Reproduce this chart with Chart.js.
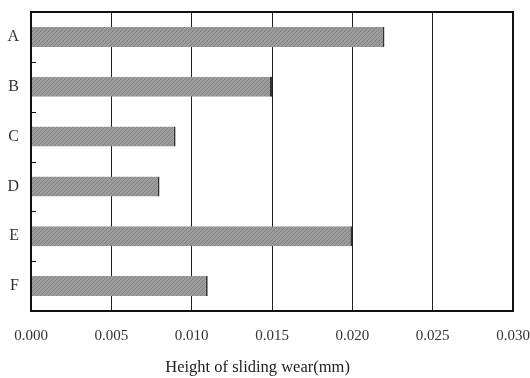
<!DOCTYPE html>
<html>
<head>
<meta charset="utf-8">
<script src="https://cdn.jsdelivr.net/npm/chart.js@4.4.1/dist/chart.umd.min.js"></script>
<style>
  html, body { margin: 0; padding: 0; background: #fff; }
  #wrap { width: 530px; height: 378px; position: relative; }
</style>
</head>
<body>
<div id="wrap"><canvas id="chart"></canvas></div>
<script>
const categories = ['A', 'B', 'C', 'D', 'E', 'F'];
const wearHeight = [0.022, 0.015, 0.009, 0.008, 0.020, 0.011];
const xTicks = [0, 0.005, 0.010, 0.015, 0.020, 0.025, 0.030];
const xTitle = 'Height of sliding wear(mm)';

const SERIF = '"Liberation Serif", "DejaVu Serif", serif';

function hatchPattern() {
  const c = document.createElement('canvas');
  c.width = 4;
  c.height = 4;
  const g = c.getContext('2d');
  g.fillStyle = '#9c9c9c';
  g.fillRect(0, 0, 4, 4);
  g.strokeStyle = '#828282';
  g.lineWidth = 1;
  g.beginPath();
  g.moveTo(0, 4); g.lineTo(4, 0);
  g.moveTo(-1, 1); g.lineTo(1, -1);
  g.moveTo(3, 5); g.lineTo(5, 3);
  g.stroke();
  return g.createPattern(c, 'repeat');
}

// frame round the plot and small inward ticks on the left axis between categories
const framePlugin = {
  id: 'frame',
  afterDraw(chart) {
    const { ctx, chartArea: a, scales } = chart;
    ctx.save();
    ctx.strokeStyle = '#111';
    ctx.lineWidth = 2;
    ctx.strokeRect(a.left, a.top, a.right - a.left, a.bottom - a.top);
    ctx.lineWidth = 1;
    const y = scales.y;
    for (let i = 1; i < categories.length; i++) {
      const py = Math.round((y.getPixelForValue(i - 1) + y.getPixelForValue(i)) / 2) + 0.5;
      ctx.beginPath();
      ctx.moveTo(a.left, py);
      ctx.lineTo(a.left + 5, py);
      ctx.stroke();
    }
    ctx.restore();
  }
};

// the title sits a little left of the plot centre in the original
function shiftedTitle(text) {
  return text + '\u00a0'.repeat(7);
}

new Chart(document.getElementById('chart'), {
  type: 'bar',
  data: {
    labels: categories,
    datasets: [{
      data: wearHeight,
      backgroundColor: hatchPattern(),
      borderColor: '#333',
      borderWidth: { top: 0, bottom: 0, left: 0, right: 2 },
      borderSkipped: 'start',
      barPercentage: 0.8,
      categoryPercentage: 0.5
    }]
  },
  options: {
    indexAxis: 'y',
    responsive: true,
    maintainAspectRatio: false,
    animation: false,
    layout: { padding: { top: 12, right: 17, bottom: 0, left: 0 } },
    plugins: {
      legend: { display: false },
      tooltip: { enabled: false }
    },
    scales: {
      x: {
        type: 'linear',
        min: 0,
        max: 0.030,
        afterBuildTicks: (scale) => { scale.ticks = xTicks.map((v) => ({ value: v })); },
        afterFit: (scale) => {
          scale.height = 67;
          scale.paddingLeft = 0;
          scale.paddingRight = 0;
        },
        grid: { color: '#222', lineWidth: 1, drawTicks: false },
        border: { color: '#111', width: 2 },
        ticks: {
          color: '#333',
          padding: 16,
          font: { family: SERIF, size: 15 },
          callback: (v) => Number(v).toFixed(3)
        },
        title: {
          display: true,
          text: shiftedTitle(xTitle),
          color: '#222',
          padding: { top: 8, bottom: 0 },
          font: { family: SERIF, size: 16.5 }
        }
      },
      y: {
        afterFit: (scale) => {
          scale.width = 31;
          scale.paddingTop = 0;
          scale.paddingBottom = 0;
        },
        grid: { display: false, drawTicks: false },
        border: { color: '#111', width: 2 },
        ticks: {
          color: '#333',
          padding: 12,
          font: { family: SERIF, size: 16 }
        }
      }
    }
  },
  plugins: [framePlugin]
});
</script>
</body>
</html>
